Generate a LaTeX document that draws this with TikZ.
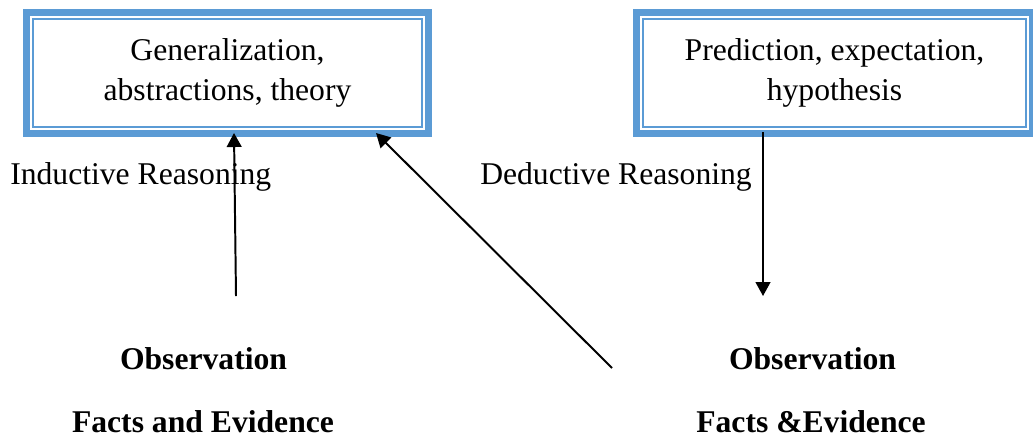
\documentclass[tikz,border=0pt]{standalone}
\usepackage{fontspec}
\setmainfont{Liberation Serif}
\usepackage{tikz}
\usetikzlibrary{arrows.meta, positioning, calc}
\definecolor{myblue}{RGB}{91,155,213}
\newcommand{\diagfont}{\fontsize{22.5}{29}\selectfont}
\tikzset{
  thinbox/.style={rectangle, draw=myblue, line width=1.4pt, align=center,
    inner sep=0pt, outer sep=0pt, minimum height=2.7cm, font=\diagfont},
  thickframe/.style={draw=myblue, line width=5.3pt},
  plaintext/.style={font=\diagfont, inner sep=0pt},
  boldtext/.style={font=\diagfont\bfseries, inner sep=0pt},
  arrow/.style={-{Triangle[length=0.35cm, width=0.37cm]}, line width=1.4pt, color=black}
}
\begin{document}
\begin{tikzpicture}[x=0.025cm, y=-0.025cm]
  \useasboundingbox (0,0) rectangle (1033,442);

  % Theory box
  \node[thinbox, minimum width=9.725cm] (gen) at (227.5,73) {Generalization,\\abstractions, theory};
  \draw[thickframe] ($(gen.north west)+(-6.25,-6.25)$) rectangle ($(gen.south east)+(6.25,6.25)$);

  % Hypothesis box
  \node[thinbox, minimum width=9.575cm] (pred) at (834.5,73) {Prediction, expectation,\\hypothesis};
  \draw[thickframe] ($(pred.north west)+(-6.25,-6.25)$) rectangle ($(pred.south east)+(6.25,6.25)$);

  % Reasoning labels
  \node[plaintext, anchor=base west] (induct) at (10,184) {Inductive Reasoning};
  \node[plaintext, anchor=base west] (deduct) at (480,184) {Deductive Reasoning};

  % Observations
  \node[boldtext, anchor=base] (obsleft) at (203.5,369) {Observation};
  \node[boldtext, anchor=base] (factleft) at (203,432) {Facts and Evidence};
  \node[boldtext, anchor=base] (obsright) at (812.5,369) {Observation};
  \node[boldtext, anchor=base] (factright) at (811,432) {Facts \&Evidence};

  % Arrows
  \coordinate (indfoot) at (236,296);
  \coordinate (indtip) at ($(gen.south)+(6.5,6)$);
  \coordinate (diagfoot) at (612,368);
  \coordinate (diagtip) at ($(gen.south)+(148.5,6)$);
  \coordinate (dedtop) at ($(pred.south)+(-71.5,5)$);
  \coordinate (dedtip) at (763,296);
  \draw[arrow] (indfoot) -- (indtip);
  \draw[arrow] (diagfoot) -- (diagtip);
  \draw[arrow] (dedtop) -- (dedtip);
\end{tikzpicture}
\end{document}
